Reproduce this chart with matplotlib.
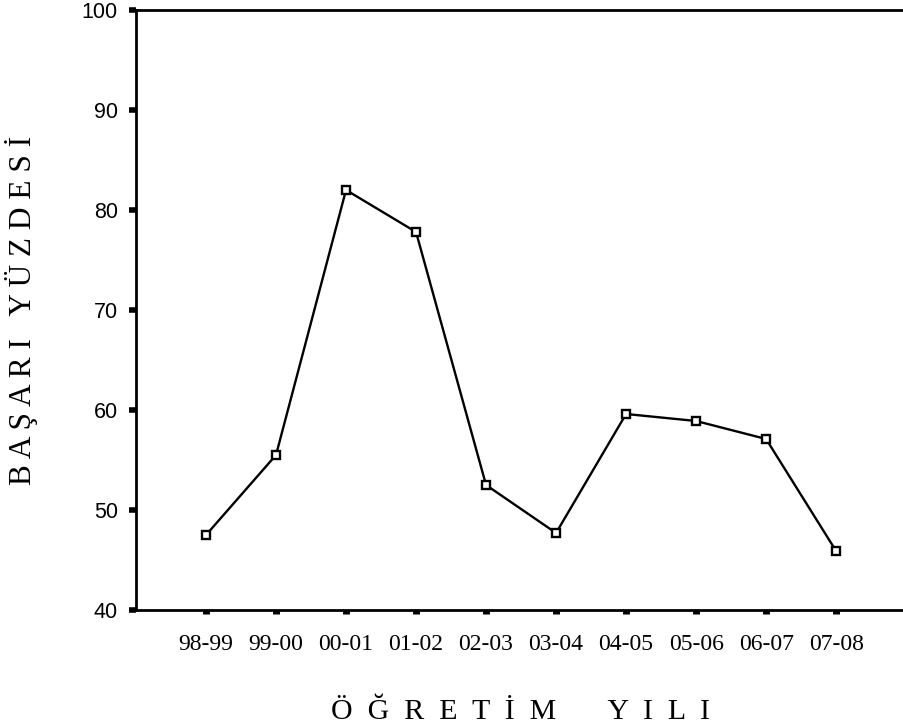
import matplotlib
matplotlib.use('Agg')
import matplotlib.pyplot as plt

# data
years = ['98-99', '99-00', '00-01', '01-02', '02-03',
         '03-04', '04-05', '05-06', '06-07', '07-08']
success = [47.5, 55.5, 82.0, 77.8, 52.5, 47.7, 59.6, 58.9, 57.1, 45.9]
yticks = [40, 50, 60, 70, 80, 90, 100]

fig = plt.figure(figsize=(9.04, 7.26), dpi=100)
ax = fig.add_axes([136/904, 1 - 610/726, 1 - 136/904, 600/726])

x = list(range(len(years)))
ax.plot(x, success, color='black', lw=1.7, marker='s', markersize=6,
        markerfacecolor='white', markeredgecolor='black', markeredgewidth=1.7)

ax.set_xlim(-1, 9.97)
ax.set_ylim(40, 100)

ax.spines['right'].set_visible(False)
for s in ['left', 'top', 'bottom']:
    ax.spines[s].set_linewidth(2)

ax.set_xticks(x)
ax.set_xticklabels(years, fontfamily='Liberation Serif', fontsize=17)
ax.set_yticks(yticks)
ax.set_yticklabels([str(v) for v in yticks], fontfamily='Liberation Sans', fontsize=15.5)

ax.tick_params(axis='x', direction='out', length=3, width=5, pad=14)
ax.tick_params(axis='y', direction='out', length=5, width=4, pad=8)

ax.set_xlabel('Ö  Ğ  R  E  T  İ  M       Y  I  L  I',
              fontfamily='Liberation Serif', fontsize=21.5)
ax.xaxis.set_label_coords(0.5, -0.148)
ax.set_ylabel('B A Ş A R I   Y Ü Z D E S İ',
              fontfamily='Liberation Serif', fontsize=22.5)
ax.yaxis.set_label_coords(-0.128, 0.5)

fig.savefig('out.png', dpi=100, facecolor='white')
